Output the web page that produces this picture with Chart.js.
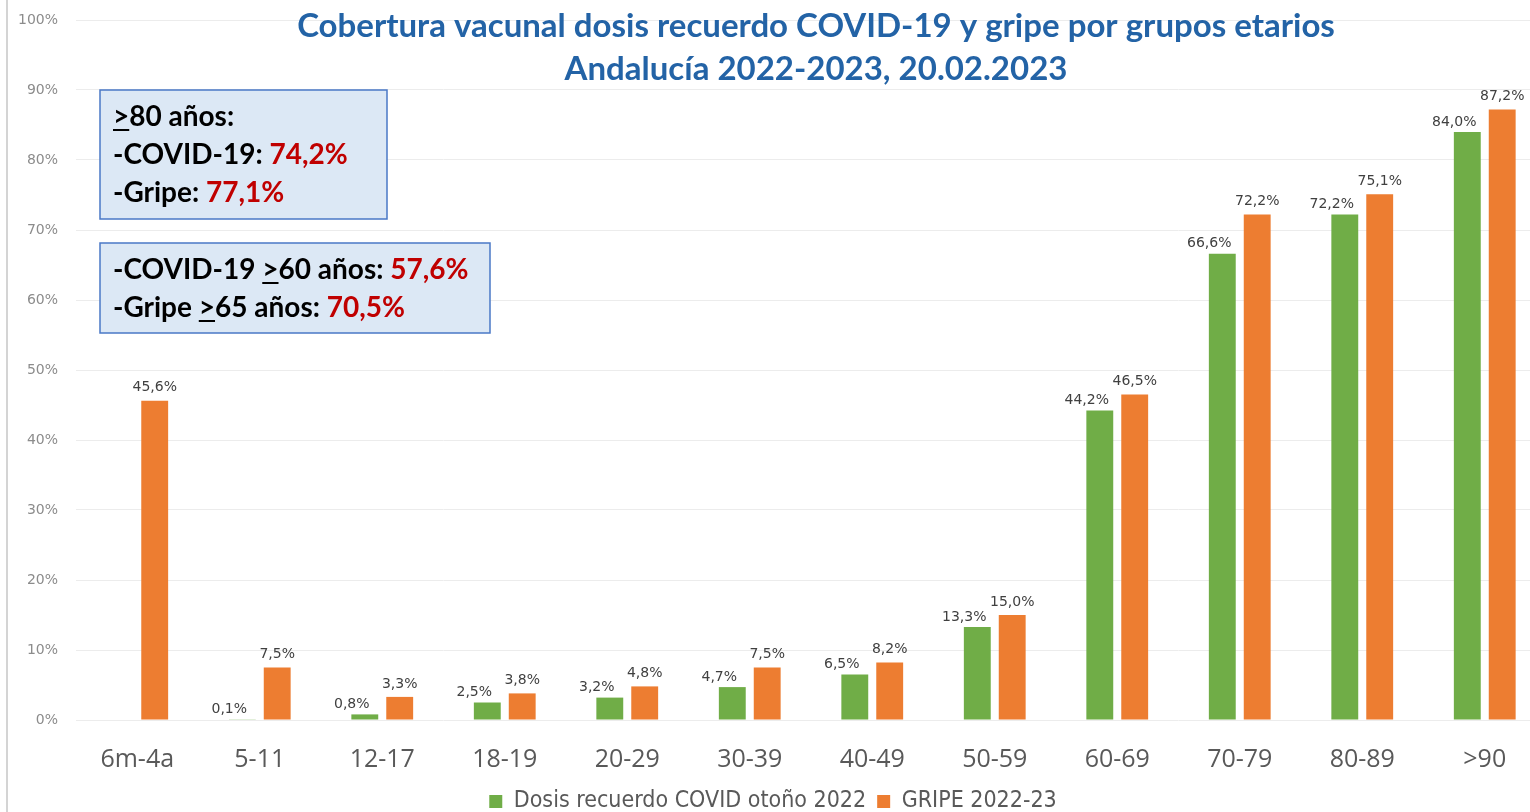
<!DOCTYPE html>
<html>
<head>
<meta charset="utf-8">
<script src="https://cdn.jsdelivr.net/npm/chart.js@4/dist/chart.umd.min.js"></script>
<style>
  html, body { margin: 0; padding: 0; background: #fff; overflow: hidden; }
</style>
</head>
<body>
<canvas id="chart" width="1550" height="823"></canvas>
<script>
const categories = ["6m-4a", "5-11", "12-17", "18-19", "20-29", "30-39", "40-49", "50-59", "60-69", "70-79", "80-89", ">90"];
const covidValues = [null, 0.1, 0.8, 2.5, 3.2, 4.7, 6.5, 13.3, 44.2, 66.6, 72.2, 84.0];
const gripeValues = [45.6, 7.5, 3.3, 3.8, 4.8, 7.5, 8.2, 15.0, 46.5, 72.2, 75.1, 87.2];
const seriesNames = ["Dosis recuerdo COVID otoño 2022", "GRIPE 2022-23"];
const titleLines = ["Cobertura vacunal dosis recuerdo COVID-19 y gripe por grupos etarios", "Andalucía 2022-2023, 20.02.2023"];

const fmt = v => v.toFixed(1).replace(".", ",") + "%";

// value labels above every bar (green ones sit a bit to the left, like the original)
const barLabels = {
  id: "barLabels",
  afterDatasetsDraw(chart) {
    const ctx = chart.ctx;
    ctx.save();
    ctx.font = "14px 'DejaVu Sans'";
    ctx.fillStyle = "#404040";
    ctx.textAlign = "center";
    ctx.textBaseline = "bottom";
    chart.data.datasets.forEach((ds, i) => {
      const dx = i === 0 ? -13 : 0;
      const dy = i === 0 ? 3 : 0;
      chart.getDatasetMeta(i).data.forEach((bar, j) => {
        const v = ds.data[j];
        if (v == null) return;
        ctx.fillText(fmt(v), bar.x + dx, bar.y - 6 + dy);
      });
    });
    ctx.restore();
  }
};

// title and the two note boxes
const notes = {
  id: "notes",
  afterDraw(chart) {
    const ctx = chart.ctx;
    ctx.save();

    // left edge line
    ctx.strokeStyle = "#d4d4d4";
    ctx.lineWidth = 2;
    ctx.beginPath();
    ctx.moveTo(7, 0);
    ctx.lineTo(7, 812);
    ctx.stroke();

    // title
    ctx.font = "bold 33px Lato";
    ctx.fillStyle = "#2363a6";
    ctx.textAlign = "center";
    ctx.textBaseline = "middle";
    ctx.fillText(titleLines[0], 816, 26);
    ctx.fillText(titleLines[1], 816, 69);

    // boxes
    const box = (x, y, w, h) => {
      ctx.fillStyle = "#dce8f5";
      ctx.fillRect(x, y, w, h);
      ctx.strokeStyle = "#4a78c6";
      ctx.lineWidth = 1.5;
      ctx.strokeRect(x, y, w, h);
    };
    box(100, 90, 287, 129);
    box(100, 243, 390, 90);

    ctx.font = "bold 28px Lato";
    ctx.textAlign = "left";
    ctx.textBaseline = "middle";
    // one line built from parts [text, colour, underline]
    const line = (parts, x, y) => {
      parts.forEach(([t, c, u]) => {
        ctx.fillStyle = c;
        ctx.fillText(t, x, y);
        const w = ctx.measureText(t).width;
        if (u) {
          ctx.fillRect(x, y + 12, w, 2);
        }
        x += w;
      });
    };
    const k = "#000000", r = "#c00000";
    line([[">", k, true], ["80 años:", k]], 113, 117);
    line([["-COVID-19: ", k], ["74,2%", r]], 113, 155);
    line([["-Gripe: ", k], ["77,1%", r]], 113, 193);
    line([["-COVID-19 ", k], [">", k, true], ["60 años: ", k], ["57,6%", r]], 113, 270);
    line([["-Gripe ", k], [">", k, true], ["65 años: ", k], ["70,5%", r]], 113, 308);

    ctx.restore();
  }
};

new Chart(document.getElementById("chart").getContext("2d"), {
  type: "bar",
  data: {
    labels: categories,
    datasets: [
      { label: seriesNames[0], data: covidValues, backgroundColor: "#70ad47" },
      { label: seriesNames[1], data: gripeValues, backgroundColor: "#ed7d31" }
    ]
  },
  options: {
    responsive: false,
    animation: false,
    categoryPercentage: 0.57,
    barPercentage: 0.77,
    layout: { padding: { top: 20, right: 4, left: 0, bottom: 0 } },
    scales: {
      x: {
        grid: { display: false },
        border: { display: false },
        ticks: { color: "#595959", font: { size: 25, family: "'Open Sans'" }, padding: 17 },
        afterFit(scale) { scale.height = 59; }
      },
      y: {
        min: 0,
        max: 100,
        ticks: {
          stepSize: 10,
          color: "#8c8c8c",
          padding: 18,
          font: { size: 14, family: "'DejaVu Sans'" },
          callback: v => v + "%"
        },
        grid: { color: "#ececec", drawTicks: false },
        border: { display: false },
        afterFit(scale) {
          scale.width = 76;
          scale.paddingTop = 0;
          scale.paddingBottom = 0;
        }
      }
    },
    plugins: {
      legend: {
        position: "bottom",
        labels: {
          boxWidth: 13,
          boxHeight: 13,
          padding: 11,
          color: "#595959",
          font: { size: 23, family: "'DejaVu Sans Condensed', Roboto" }
        }
      },
      tooltip: { enabled: false }
    }
  },
  plugins: [barLabels, notes]
});
</script>
</body>
</html>
